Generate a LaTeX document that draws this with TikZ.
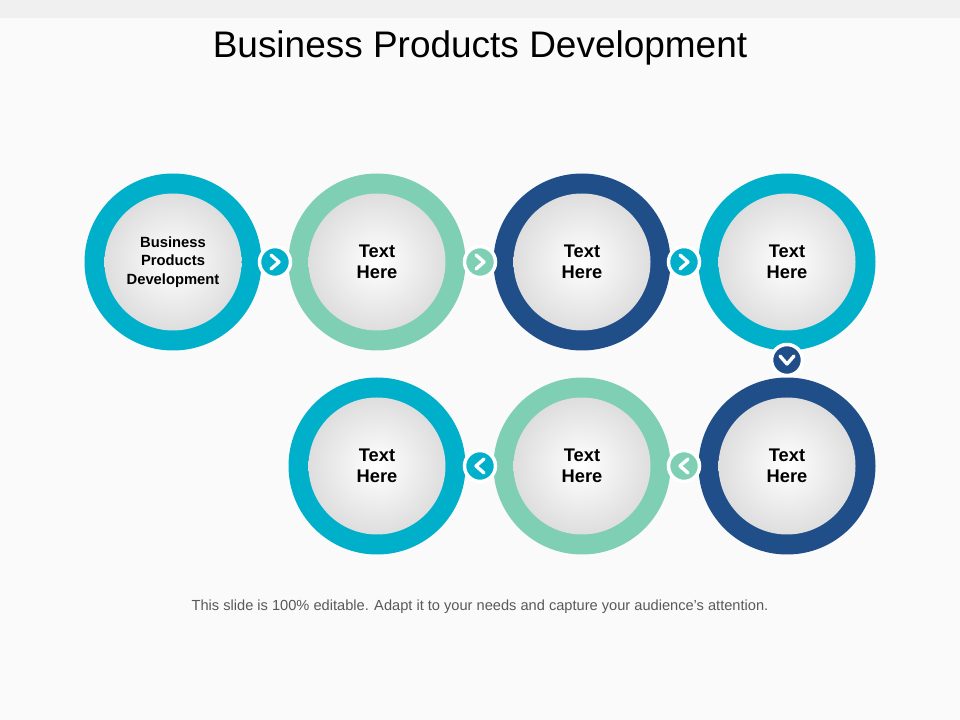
\documentclass[tikz,border=0pt]{standalone}
\usepackage{fontspec}
\setmainfont{Liberation Sans}
\usetikzlibrary{positioning,calc}
\definecolor{teal}{HTML}{00B0CB}
\definecolor{mint}{HTML}{7FCFB4}
\definecolor{navy}{HTML}{1F4E89}
\tikzset{
  ring/.style={circle,minimum size=177*0.025cm,inner sep=0pt,fill=#1},
  core/.style={circle,minimum size=137*0.025cm,inner sep=0pt,shading=radial,
    inner color=white,outer color=black!13,font=\bfseries\fontsize{13}{15}\selectfont,align=center},
  badge/.style={circle,minimum size=31*0.025cm,inner sep=0pt,fill=#1,draw=white,line width=2.5pt},
  chevron/.style={white,line width=2.4pt,line cap=round,line join=round},
}
\newcommand{\chev}[4]{% node, three offsets in px
  \draw[chevron] ($(#1)+#2$) -- ($(#1)+#3$) -- ($(#1)+#4$);}
\begin{document}
\begin{tikzpicture}[x=0.025cm,y=-0.025cm]
\useasboundingbox (0,0) rectangle (960,720);
\fill[black!2] (0,0) rectangle (960,720);
\fill[black!6] (0,0) rectangle (960,18);
\node[font=\fontsize{26.3}{30}\selectfont] (title) at (480,48) {Business Products Development};

\node[ring=teal] (r1) at (173,262) {};
\node[ring=mint] (r2) at (377,262) {};
\node[ring=navy] (r3) at (582,262) {};
\node[ring=teal] (r4) at (787,262) {};
\node[ring=navy] (r5) at (787,466) {};
\node[ring=mint] (r6) at (582,466) {};
\node[ring=teal] (r7) at (377,466) {};

\node[core,font=\bfseries\fontsize{10.5}{13}\selectfont] (c1) at (r1) {Business\\Products\\Development};
\foreach \i in {2,...,7}
  \node[core] (c\i) at (r\i) {Text\\Here};

\node[badge=teal] (b1) at (275,262) {}; \chev{b1}{(-4,-7)}{(4,0)}{(-4,7)}
\node[badge=mint] (b2) at (480,262) {}; \chev{b2}{(-4,-7)}{(4,0)}{(-4,7)}
\node[badge=teal] (b3) at (684,262) {}; \chev{b3}{(-4,-7)}{(4,0)}{(-4,7)}
\node[badge=navy] (b4) at (787,360) {}; \chev{b4}{(-7,-4)}{(0,4)}{(7,-4)}
\node[badge=mint] (b5) at (684,466) {}; \chev{b5}{(4,-7)}{(-4,0)}{(4,7)}
\node[badge=teal] (b6) at (480,466) {}; \chev{b6}{(4,-7)}{(-4,0)}{(4,7)}

\node[text=black!65,font=\fontsize{10.4}{12}\selectfont] (foot) at (480,607)
  {This slide is 100\% editable. Adapt it to your needs and capture your audience's attention.};
\end{tikzpicture}
\end{document}
